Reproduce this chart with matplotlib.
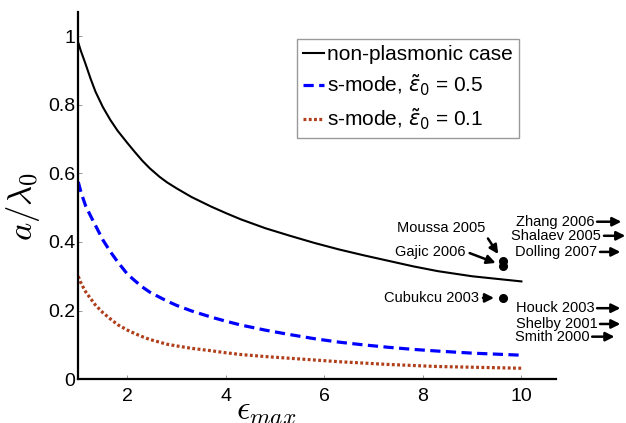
import matplotlib
matplotlib.use('Agg')
import matplotlib.pyplot as plt
from matplotlib.font_manager import FontProperties
from matplotlib.ticker import FormatStrFormatter

# values
eps_max = [1.0, 1.05, 1.1, 1.15, 1.25, 1.35, 1.5, 1.65, 1.8, 2.0, 2.15, 2.3, 2.45, 2.65, 2.8,
           3.0, 3.3, 3.7, 4.0, 4.3, 4.8, 5.3, 5.8, 6.3, 6.8, 7.3, 7.8, 8.3, 9.0, 10.0]
non_plasmonic = [0.981, 0.958, 0.938, 0.918, 0.876, 0.838, 0.793, 0.756, 0.724, 0.688, 0.662,
                 0.637, 0.615, 0.590, 0.574, 0.556, 0.531, 0.503, 0.484, 0.466, 0.440, 0.418,
                 0.397, 0.378, 0.361, 0.345, 0.329, 0.315, 0.300, 0.285]
s_mode_05 = [0.575, 0.548, 0.526, 0.505, 0.476, 0.448, 0.406, 0.372, 0.342, 0.306, 0.287,
             0.269, 0.254, 0.239, 0.228, 0.215, 0.199, 0.181, 0.169, 0.158, 0.143, 0.130,
             0.118, 0.108, 0.100, 0.093, 0.087, 0.082, 0.076, 0.070]
s_mode_01 = [0.300, 0.282, 0.268, 0.255, 0.235, 0.216, 0.194, 0.176, 0.159, 0.143, 0.133,
             0.124, 0.116, 0.108, 0.102, 0.097, 0.090, 0.083, 0.077, 0.072, 0.066, 0.061,
             0.056, 0.051, 0.047, 0.043, 0.040, 0.037, 0.035, 0.032]

# experimental points with arrows pointing at them
exp_labels = ['Moussa 2005', 'Gajic 2006', 'Cubukcu 2003']
exp_x = [9.62, 9.62, 9.62]
exp_y = [0.344, 0.331, 0.237]

# references beyond the plotted range (arrows pointing right)
far_labels = ['Zhang 2006', 'Shalaev 2005', 'Dolling 2007', 'Houck 2003', 'Shelby 2001', 'Smith 2000']
far_y = [0.459, 0.418, 0.371, 0.207, 0.161, 0.124]

plt.rcParams['font.family'] = ['Liberation Sans', 'DejaVu Sans']
plt.rcParams['mathtext.fontset'] = 'cm'

fig = plt.figure(figsize=(6.26, 4.23), dpi=100)
ax = fig.add_axes([0.125, 0.1035, 0.763, 0.868])

ax.plot(eps_max, non_plasmonic, color='black', lw=1.5, label='non-plasmonic case')
ax.plot(eps_max, s_mode_05, color='#0000ff', lw=2.3, dashes=(3.2, 1.7),
        label=r's-mode, $\tilde{\varepsilon}_\mathrm{0}$ = 0.5')
ax.plot(eps_max, s_mode_01, color='#b0401c', lw=2.3, dashes=(0.9, 0.75),
        label=r's-mode, $\tilde{\varepsilon}_\mathrm{0}$ = 0.1')

ax.plot(exp_x, exp_y, 'o', color='black', ms=5.5)

ARROW = dict(arrowstyle='-|>', color='black', lw=1.8, mutation_scale=13,
             shrinkA=1, shrinkB=2)
ANN_FONT = 10.5

ax.annotate(exp_labels[0], xy=(9.56, 0.358), xytext=(8.37, 0.442),
            ha='center', va='center', fontsize=ANN_FONT, annotation_clip=False,
            arrowprops=dict(ARROW, relpos=(1.0, 0.0)))
ax.annotate(exp_labels[1], xy=(9.53, 0.336), xytext=(8.15, 0.372),
            ha='center', va='center', fontsize=ANN_FONT, annotation_clip=False,
            arrowprops=dict(ARROW, relpos=(1.0, 0.5)))
ax.annotate(exp_labels[2], xy=(9.50, exp_y[2]), xytext=(8.17, exp_y[2]),
            ha='center', va='center', fontsize=ANN_FONT, annotation_clip=False,
            arrowprops=dict(ARROW, relpos=(1.0, 0.5)))

far_text_x = [11.48, 11.62, 11.54, 11.48, 11.54, 11.38]
far_head_x = [12.03, 12.11, 12.01, 12.01, 12.01, 11.89]
for lab, fy, tx, hx in zip(far_labels, far_y, far_text_x, far_head_x):
    ax.annotate(lab, xy=(hx, fy), xytext=(tx, fy), ha='right', va='center',
                fontsize=ANN_FONT, annotation_clip=False,
                arrowprops=dict(ARROW, relpos=(1.0, 0.5), shrinkA=0, shrinkB=0))

ax.set_xlim(1, 10.7)
ax.set_ylim(0, 1.07)
ax.set_xticks([2, 4, 6, 8, 10])
ax.set_yticks([0, 0.2, 0.4, 0.6, 0.8, 1.0])
ax.yaxis.set_major_formatter(FormatStrFormatter('%g'))
ax.tick_params(direction='in', length=3, width=0.6, labelsize=14, color='#888888')
ax.tick_params(axis='x', pad=6)
ax.tick_params(axis='y', pad=2)

for side in ['top', 'right']:
    ax.spines[side].set_visible(False)
for side in ['left', 'bottom']:
    ax.spines[side].set_linewidth(1.6)

ax.set_xlabel(r'$\epsilon_{max}$', fontsize=24, va='top')
ax.xaxis.set_label_coords(0.393, -0.045)
ax.set_ylabel(r'$a/\lambda_0$', fontsize=25)
ax.yaxis.set_label_coords(-0.075, 0.47)

leg_font = FontProperties(family='Liberation Sans', size=15, math_fontfamily='dejavusans')
leg = ax.legend(loc='upper right', bbox_to_anchor=(0.923, 0.926), borderaxespad=0,
                prop=leg_font, fancybox=False, handlelength=1.0, handletextpad=0.15,
                borderpad=0.3, labelspacing=0.4, framealpha=1)
leg.get_frame().set_edgecolor('#9a9a9a')
leg.get_frame().set_linewidth(1.0)

fig.savefig('out.png', dpi=100)
